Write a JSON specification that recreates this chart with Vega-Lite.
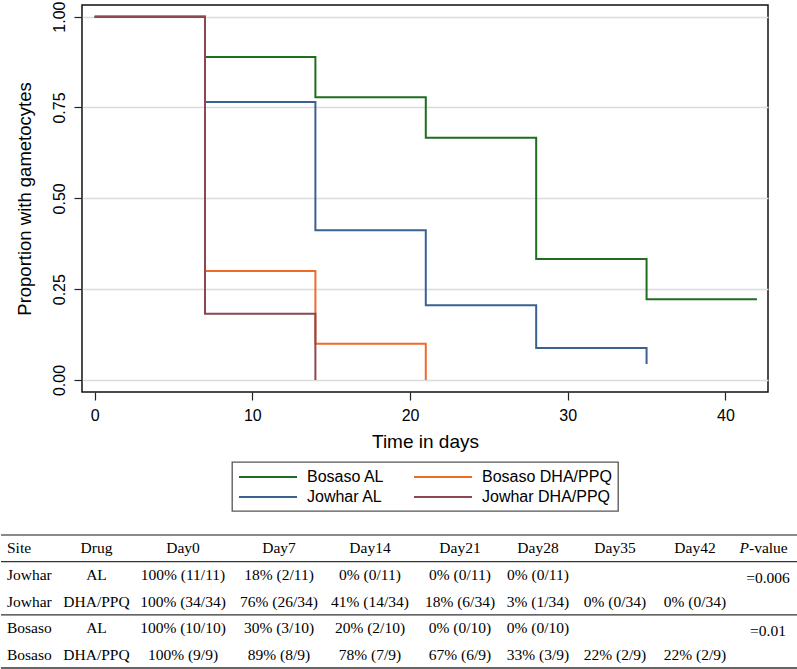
{
  "$schema": "https://vega.github.io/schema/vega-lite/v6.json",
  "padding": 0,
  "background": "white",
  "datasets": {
    "km": [
      {"g": "Bosaso AL", "t": 0, "s": 1},
      {"g": "Bosaso AL", "t": 7, "s": 0.889},
      {"g": "Bosaso AL", "t": 14, "s": 0.778},
      {"g": "Bosaso AL", "t": 21, "s": 0.667},
      {"g": "Bosaso AL", "t": 28, "s": 0.333},
      {"g": "Bosaso AL", "t": 35, "s": 0.222},
      {"g": "Bosaso AL", "t": 42, "s": 0.222},
      {"g": "Bosaso DHA/PPQ", "t": 0, "s": 1},
      {"g": "Bosaso DHA/PPQ", "t": 7, "s": 0.3},
      {"g": "Bosaso DHA/PPQ", "t": 14, "s": 0.1},
      {"g": "Bosaso DHA/PPQ", "t": 21, "s": 0},
      {"g": "Jowhar AL", "t": 0, "s": 1},
      {"g": "Jowhar AL", "t": 7, "s": 0.765},
      {"g": "Jowhar AL", "t": 14, "s": 0.412},
      {"g": "Jowhar AL", "t": 21, "s": 0.206},
      {"g": "Jowhar AL", "t": 28, "s": 0.088},
      {"g": "Jowhar AL", "t": 35, "s": 0.044},
      {"g": "Jowhar DHA/PPQ", "t": 0, "s": 1},
      {"g": "Jowhar DHA/PPQ", "t": 7, "s": 0.182},
      {"g": "Jowhar DHA/PPQ", "t": 14, "s": 0}
    ],
    "tbl": [
      {"r": 0, "c": 0, "t": "Site"},
      {"r": 0, "c": 1, "t": "Drug"},
      {"r": 0, "c": 2, "t": "Day0"},
      {"r": 0, "c": 3, "t": "Day7"},
      {"r": 0, "c": 4, "t": "Day14"},
      {"r": 0, "c": 5, "t": "Day21"},
      {"r": 0, "c": 6, "t": "Day28"},
      {"r": 0, "c": 7, "t": "Day35"},
      {"r": 0, "c": 8, "t": "Day42"},
      {"r": 0, "c": 9, "t": "P"},
      {"r": 0, "c": 9, "t": "-value"},
      {"r": 1, "c": 0, "t": "Jowhar"},
      {"r": 1, "c": 1, "t": "AL"},
      {"r": 1, "c": 2, "t": "100% (11/11)"},
      {"r": 1, "c": 3, "t": "18% (2/11)"},
      {"r": 1, "c": 4, "t": "0% (0/11)"},
      {"r": 1, "c": 5, "t": "0% (0/11)"},
      {"r": 1, "c": 6, "t": "0% (0/11)"},
      {"r": 1, "c": 9, "t": "=0.006"},
      {"r": 2, "c": 0, "t": "Jowhar"},
      {"r": 2, "c": 1, "t": "DHA/PPQ"},
      {"r": 2, "c": 2, "t": "100% (34/34)"},
      {"r": 2, "c": 3, "t": "76% (26/34)"},
      {"r": 2, "c": 4, "t": "41% (14/34)"},
      {"r": 2, "c": 5, "t": "18% (6/34)"},
      {"r": 2, "c": 6, "t": "3% (1/34)"},
      {"r": 2, "c": 7, "t": "0% (0/34)"},
      {"r": 2, "c": 8, "t": "0% (0/34)"},
      {"r": 3, "c": 0, "t": "Bosaso"},
      {"r": 3, "c": 1, "t": "AL"},
      {"r": 3, "c": 2, "t": "100% (10/10)"},
      {"r": 3, "c": 3, "t": "30% (3/10)"},
      {"r": 3, "c": 4, "t": "20% (2/10)"},
      {"r": 3, "c": 5, "t": "0% (0/10)"},
      {"r": 3, "c": 6, "t": "0% (0/10)"},
      {"r": 3, "c": 9, "t": "=0.01"},
      {"r": 4, "c": 0, "t": "Bosaso"},
      {"r": 4, "c": 1, "t": "DHA/PPQ"},
      {"r": 4, "c": 2, "t": "100% (9/9)"},
      {"r": 4, "c": 3, "t": "89% (8/9)"},
      {"r": 4, "c": 4, "t": "78% (7/9)"},
      {"r": 4, "c": 5, "t": "67% (6/9)"},
      {"r": 4, "c": 6, "t": "33% (3/9)"},
      {"r": 4, "c": 7, "t": "22% (2/9)"},
      {"r": 4, "c": 8, "t": "22% (2/9)"}
    ]
  },
  "vconcat": [
    {
      "hconcat": [
        {
          "width": 13,
          "height": 1,
          "view": {"stroke": null},
          "data": {"values": [{"a": 0}]},
          "mark": {"type": "point", "opacity": 0},
          "encoding": {}
        },
        {
          "width": 686,
          "height": 387,
          "data": {"name": "km"},
          "mark": {"type": "line", "interpolate": "step-after", "strokeWidth": 2},
          "encoding": {
            "x": {
              "field": "t",
              "type": "quantitative",
              "scale": {"domain": [-0.8, 42.7], "nice": false, "zero": false},
              "axis": {
                "values": [0, 10, 20, 30, 40],
                "title": "Time in days",
                "grid": false,
                "tickSize": 8,
                "labelFontSize": 16,
                "labelPadding": 7,
                "titleFontSize": 19,
                "titlePadding": 9
              }
            },
            "y": {
              "field": "s",
              "type": "quantitative",
              "scale": {"domain": [-0.033, 1.032], "nice": false, "zero": false},
              "axis": {
                "values": [0, 0.25, 0.5, 0.75, 1],
                "format": ".2f",
                "title": "Proportion with gametocytes",
                "grid": true,
                "gridColor": "#dcdcdc",
                "gridWidth": 1.5,
                "tickSize": 8,
                "labelAngle": 270,
                "labelAlign": "center",
                "labelBaseline": "bottom",
                "labelFontSize": 16,
                "labelPadding": 6.5,
                "titleFontSize": 18.5,
                "titlePadding": 17
              }
            },
            "color": {
              "field": "g",
              "type": "nominal",
              "scale": {
                "domain": ["Bosaso AL", "Bosaso DHA/PPQ", "Jowhar AL", "Jowhar DHA/PPQ"],
                "range": ["#1f6e1f", "#f06a28", "#3a6190", "#8c4850"]
              },
              "legend": {
                "title": null,
                "orient": "bottom",
                "direction": "horizontal",
                "columns": 2,
                "symbolType": "M-1,0H6.25",
                "symbolSize": 256,
                "symbolStrokeWidth": 1.8,
                "labelFontSize": 16,
                "labelFont": "Liberation Sans",
                "labelColor": "#000",
                "labelOffset": 51,
                "columnPadding": 25,
                "rowPadding": 3,
                "padding": 6,
                "strokeColor": "#555",
                "offset": 11
              }
            }
          }
        }
      ],
      "spacing": 0,
      "resolve": {"scale": {"color": "independent"}, "legend": {"color": "independent"}}
    },
    {
      "width": 797,
      "height": 133,
      "view": {"stroke": null},
      "data": {"name": "tbl"},
      "layer": [
        {
          "transform": [{"filter": "datum.c == 0 && datum.r == 0"}],
          "mark": {"type": "rule", "color": "#8a8a8a", "strokeWidth": 2},
          "encoding": {
            "y": {"field": "r", "type": "ordinal", "bandPosition": 0, "scale": {"type": "band", "domain": [0, 1, 2, 3, 4], "paddingInner": 0, "paddingOuter": 0}, "axis": null}
          }
        },
        {
          "transform": [{"filter": "datum.c == 0 && (datum.r == 1 || datum.r == 3)"}],
          "mark": {"type": "rule", "color": "#333", "strokeWidth": 1.2},
          "encoding": {
            "y": {"field": "r", "type": "ordinal", "bandPosition": 0, "axis": null}
          }
        },
        {
          "transform": [{"filter": "datum.c == 0 && datum.r == 4"}],
          "mark": {"type": "rule", "color": "#333", "strokeWidth": 1.4},
          "encoding": {
            "y": {"field": "r", "type": "ordinal", "bandPosition": 1, "axis": null}
          }
        },
        {
          "transform": [{"filter": "datum.c > 0 && datum.c < 9"}],
          "mark": {"type": "text", "font": "Liberation Serif", "fontSize": 15.5, "color": "#000", "align": "center", "baseline": "middle"},
          "encoding": {
            "x": {"field": "c", "type": "quantitative", "scale": {"domain": [0, 1, 2, 3, 4, 5, 6, 7, 8, 9], "range": [6, 95.5, 182, 278, 369, 459, 537, 614, 694, 767], "nice": false, "zero": false}, "axis": null},
            "y": {"field": "r", "type": "ordinal", "axis": null},
            "text": {"field": "t"}
          }
        },
        {
          "transform": [{"filter": "datum.c == 0"}],
          "mark": {"type": "text", "font": "Liberation Serif", "fontSize": 15.5, "color": "#000", "align": "left", "baseline": "middle"},
          "encoding": {
            "x": {"field": "c", "type": "quantitative", "axis": null},
            "y": {"field": "r", "type": "ordinal", "axis": null},
            "text": {"field": "t"}
          }
        },
        {
          "transform": [{"filter": "datum.c == 9 && datum.r > 0"}],
          "mark": {"type": "text", "font": "Liberation Serif", "fontSize": 15.5, "color": "#000", "align": "center", "baseline": "middle", "dy": 3},
          "encoding": {
            "x": {"field": "c", "type": "quantitative", "axis": null},
            "y": {"field": "r", "type": "ordinal", "axis": null},
            "text": {"field": "t"}
          }
        },
        {
          "transform": [{"filter": "datum.t == 'P'"}],
          "mark": {"type": "text", "font": "Liberation Serif", "fontSize": 15.5, "fontStyle": "italic", "color": "#000", "align": "right", "baseline": "middle", "dx": -19},
          "encoding": {
            "x": {"field": "c", "type": "quantitative", "axis": null},
            "y": {"field": "r", "type": "ordinal", "axis": null},
            "text": {"field": "t"}
          }
        },
        {
          "transform": [{"filter": "datum.t == '-value'"}],
          "mark": {"type": "text", "font": "Liberation Serif", "fontSize": 15.5, "color": "#000", "align": "left", "baseline": "middle", "dx": -19},
          "encoding": {
            "x": {"field": "c", "type": "quantitative", "axis": null},
            "y": {"field": "r", "type": "ordinal", "axis": null},
            "text": {"field": "t"}
          }
        }
      ]
    }
  ],
  "spacing": 21,
  "resolve": {"scale": {"color": "independent"}, "legend": {"color": "independent"}},
  "config": {
    "font": "Liberation Sans",
    "view": {"stroke": "#111", "strokeWidth": 1.5},
    "axis": {
      "labelFont": "Liberation Sans",
      "titleFont": "Liberation Sans",
      "labelColor": "#000",
      "titleColor": "#000",
      "titleFontWeight": "normal",
      "tickColor": "#222",
      "tickWidth": 1.2,
      "domain": false
    },
    "legend": {
      "layout": {"bottom": {"anchor": "middle"}},
      "strokeWidth": 1.3
    }
  }
}
